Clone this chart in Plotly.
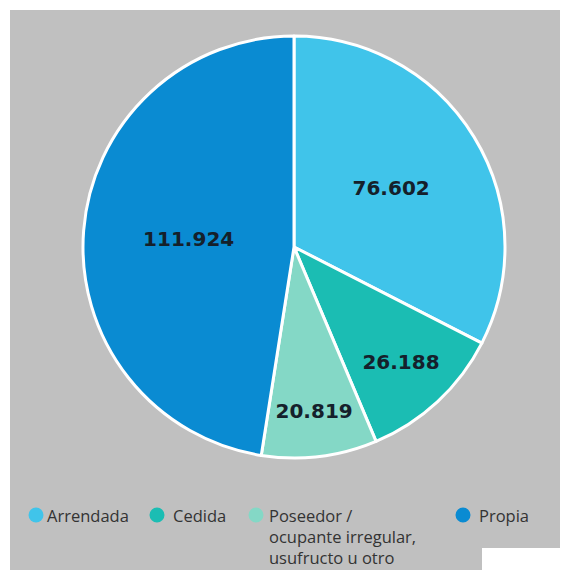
import plotly.graph_objects as go

categories = ["Arrendada", "Cedida", "Poseedor /<br>ocupante irregular,<br>usufructo u otro", "Propia"]
values = [76602, 26188, 20819, 111924]
colors = ["#40c4ea", "#1bbdb3", "#84d8c6", "#0a8bd2"]

# page body has an 8px margin, so the figure is 8px smaller than the window
W, H = 560, 562
OFF = 8


def px(x):
    return (x - OFF) / W


def py(y):
    return 1 - (y - OFF) / H


cx, cy, r = 294, 247, 211

fig = go.Figure()
fig.add_trace(go.Pie(
    labels=categories, values=values, sort=False, direction="clockwise", rotation=0,
    marker=dict(colors=colors, line=dict(color="white", width=3)),
    texttemplate="%{value:,}", textposition="inside",
    insidetextorientation="horizontal",
    textfont=dict(family="DejaVu Sans", size=20, color="#15202b", weight="bold"),
    showlegend=False, hoverinfo="label+value",
    domain=dict(x=[px(cx - r), px(cx + r)], y=[py(cy + r), py(cy - r)]),
))

shapes = [
    dict(type="rect", xref="paper", yref="paper", x0=px(10), x1=px(565), y0=0, y1=py(10),
         fillcolor="#c0c0c0", line=dict(width=0), layer="below"),
    dict(type="rect", xref="paper", yref="paper", x0=px(482), x1=1, y0=0, y1=py(548),
         fillcolor="white", line=dict(width=0), layer="below"),
]
annotations = []
# legend: marker centre x, text start x (reference pixels)
leg_marker_x = [36, 157, 256, 463]
leg_text_x = [46, 172, 268, 478]
leg_y0, leg_dy, rad = 515, 21, 7.5
for cat, col, mx, tx in zip(categories, colors, leg_marker_x, leg_text_x):
    shapes.append(dict(type="circle", xref="paper", yref="paper",
                       x0=px(mx - rad), x1=px(mx + rad), y0=py(leg_y0 + rad), y1=py(leg_y0 - rad),
                       fillcolor=col, line=dict(width=0)))
    for i, line in enumerate(cat.split("<br>")):
        annotations.append(dict(text=line, xref="paper", yref="paper", x=px(tx), y=py(leg_y0 + i * leg_dy),
                                xanchor="left", yanchor="middle", showarrow=False,
                                borderpad=0,
                                font=dict(family="Open Sans", size=16.5, color="#333333")))

fig.update_layout(
    width=W, height=H, margin=dict(l=0, r=0, t=0, b=0),
    paper_bgcolor="white", separators=",.",
    shapes=shapes, annotations=annotations,
)
fig.write_html("out.html")
